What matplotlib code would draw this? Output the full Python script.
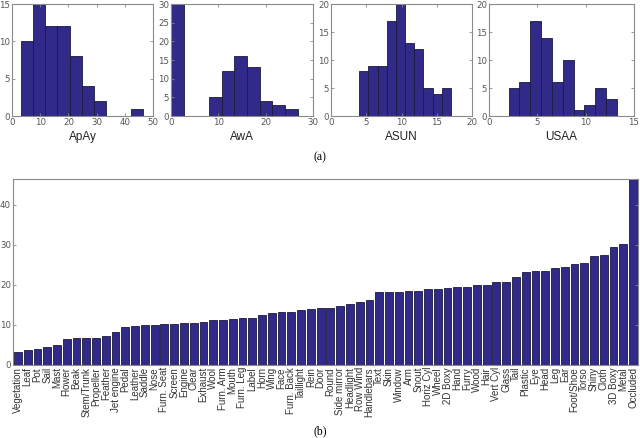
"""
Attribute statistics: per-dataset histograms (a) and sorted attribute bar chart (b).
"""
import numpy as np
import matplotlib
matplotlib.use("Agg")
import matplotlib.pyplot as plt

# (a) histograms: bin edges and counts
apay_edges = [3.1, 7.4, 11.8, 16.1, 20.5, 24.8, 29.2, 33.5, 37.9, 42.2, 46.6]
apay_counts = [10, 15, 12, 12, 8, 4, 2, 0, 0, 1]

awa_edges = [0.0, 2.68, 5.36, 8.04, 10.72, 13.4, 16.08, 18.76, 21.44, 24.12, 26.8]
awa_counts = [30, 0, 0, 5, 12, 16, 13, 4, 3, 2]

asun_edges = [3.96, 5.28, 6.6, 7.92, 9.22, 10.52, 11.82, 13.12, 14.44, 15.76, 17.08]
asun_counts = [8, 9, 9, 17, 20, 13, 12, 5, 4, 5]

usaa_edges = [2.03, 3.15, 4.27, 5.39, 6.51, 7.63, 8.75, 9.87, 10.99, 12.11, 13.23]
usaa_counts = [5, 6, 17, 14, 6, 10, 1, 2, 5, 3]

hist_names = ["ApAy", "AwA", "ASUN", "USAA"]
hist_xlims = [50, 30, 20, 15]
hist_ylims = [15, 30, 20, 20]
hist_xticks = [[0, 10, 20, 30, 40, 50], [0, 10, 20, 30], [0, 5, 10, 15, 20], [0, 5, 10, 15]]
hist_yticks = [[0, 5, 10, 15], [0, 5, 10, 15, 20, 25, 30], [0, 5, 10, 15, 20], [0, 5, 10, 15, 20]]

# (b) attributes sorted by value
attributes = [
    "Vegetation", "Leaf", "Pot", "Sail", "Mast", "Flower", "Beak", "Stem/Trunk",
    "Propeller", "Feather", "Jet engine", "Pedal", "Leather", "Saddle", "Nose",
    "Furn. Seat", "Screen", "Engine", "Clear", "Exhaust", "Wool", "Furn. Arm",
    "Mouth", "Furn. Leg", "Label", "Horn", "Wing", "Face", "Furn. Back",
    "Taillight", "Rein", "Door", "Round", "Side mirror", "Headlight", "Row Wind",
    "Handlebars", "Text", "Skin", "Window", "Arm", "Snout", "Horiz Cyl", "Wheel",
    "2D Boxy", "Hand", "Furry", "Wood", "Hair", "Vert Cyl", "Glass", "Tail",
    "Plastic", "Eye", "Head", "Leg", "Ear", "Foot/Shoe", "Torso", "Shiny",
    "Cloth", "3D Boxy", "Metal", "Occluded",
]
attr_values = [
    3.3, 3.8, 4.0, 4.4, 5.1, 6.4, 6.8, 6.8, 6.8, 7.3, 8.3, 9.5, 9.7, 9.9, 10.1,
    10.2, 10.3, 10.4, 10.4, 10.7, 11.2, 11.2, 11.6, 11.75, 11.8, 12.6, 13.0,
    13.25, 13.25, 13.7, 14.0, 14.25, 14.3, 14.7, 15.2, 15.8, 16.2, 18.3, 18.3,
    18.3, 18.45, 18.45, 19.0, 19.0, 19.3, 19.6, 19.6, 19.9, 20.1, 20.75, 20.75,
    22.0, 23.2, 23.5, 23.5, 24.25, 24.4, 25.25, 25.6, 27.3, 27.4, 29.6, 30.25,
    46.4,
]

BAR_COLOR = "#312a89"
EDGE_COLOR = "#1c1a3c"
SPINE_COLOR = "#8a8a8a"
TICK_TEXT = "#555555"


def style_axes(ax, size=6.2):
    for sp in ax.spines.values():
        sp.set_color(SPINE_COLOR)
        sp.set_linewidth(0.8)
    ax.tick_params(direction="in", top=True, right=True, length=2.5, width=0.6,
                   color=SPINE_COLOR, labelsize=size, labelcolor=TICK_TEXT, pad=1.5)


fig = plt.figure(figsize=(6.4, 4.38), dpi=100)
W, H = 640.0, 438.0

# pixel boxes (left, right) for the four histograms, shared top/bottom
hist_boxes = [(12, 153), (171, 313), (331, 472), (489, 634)]
hist_data = [(apay_edges, apay_counts), (awa_edges, awa_counts),
             (asun_edges, asun_counts), (usaa_edges, usaa_counts)]

for i, (l, r) in enumerate(hist_boxes):
    ax = fig.add_axes([l / W, 1 - 116 / H, (r - l) / W, (116 - 4) / H])
    edges, counts = hist_data[i]
    edges = np.array(edges)
    ax.bar(edges[:-1], counts, width=np.diff(edges), align="edge",
           color=BAR_COLOR, edgecolor=EDGE_COLOR, linewidth=0.6)
    ax.set_xlim(0, hist_xlims[i])
    ax.set_ylim(0, hist_ylims[i])
    ax.set_xticks(hist_xticks[i])
    ax.set_yticks(hist_yticks[i])
    style_axes(ax)
    ax.set_xlabel(hist_names[i], fontsize=8.5, family="Liberation Sans",
                  color="#222222", labelpad=3)

fig.text(320 / W, 1 - 157 / H, "(a)", ha="center", va="center",
         fontsize=8.5, family="Liberation Serif")

# sorted attribute bars
axb = fig.add_axes([13 / W, 1 - 365 / H, (638 - 13) / W, (365 - 179) / H])
pos = np.arange(1, len(attributes) + 1)
axb.bar(pos, attr_values, width=0.8, color=BAR_COLOR,
        edgecolor=EDGE_COLOR, linewidth=0.6)
axb.set_xlim(0.5, len(attributes) + 0.5)
axb.set_ylim(0, 46.5)
axb.set_yticks([0, 10, 20, 30, 40])
axb.set_xticks(pos)
axb.set_xticklabels(attributes, rotation=90, family="Liberation Sans")
style_axes(axb)
axb.tick_params(axis="x", length=0, labelsize=7, labelcolor="#333333")

fig.text(320 / W, 1 - 431 / H, "(b)", ha="center", va="center",
         fontsize=8.5, family="Liberation Serif")

fig.savefig("out.png", dpi=100)
